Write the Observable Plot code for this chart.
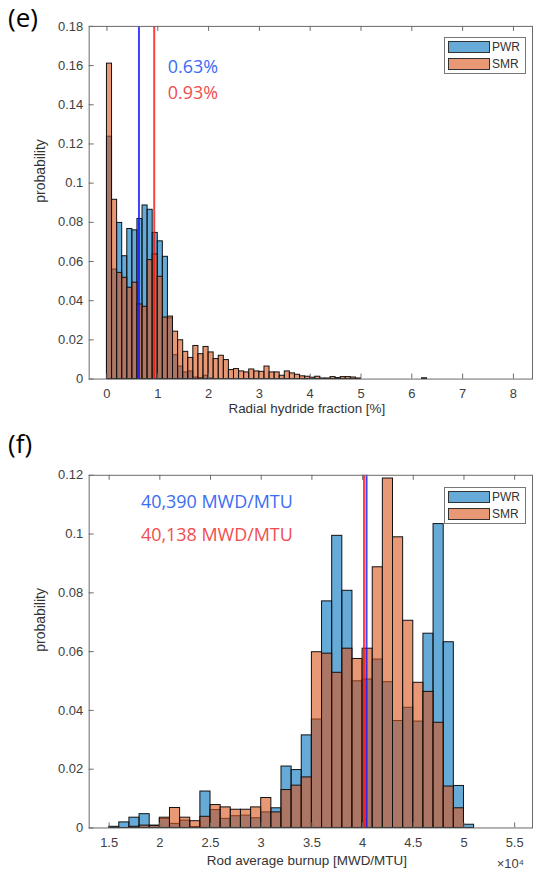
<!DOCTYPE html>
<html><head><meta charset="utf-8">
<script src="https://cdn.jsdelivr.net/npm/d3@7"></script>
<script src="https://cdn.jsdelivr.net/npm/@observablehq/plot@0.6"></script>
<style>
body{margin:0;background:#fff;}
#wrap{position:relative;width:534px;height:875px;overflow:hidden;background:#fff;font-family:"Liberation Sans",Arial,sans-serif;}
.panel{position:absolute;left:0;}
.plab{position:absolute;left:8px;font-family:"Open Sans",sans-serif;font-size:26px;line-height:1;color:#000;}
.abs{position:absolute;box-sizing:border-box;}
</style></head>
<body>
<div id="wrap"></div>
<script>
// ---------- data ----------
const series = ["PWR", "SMR"];
const panelLabels = ["(e)", "(f)"];

// (e) Radial hydride fraction [%], bins of 0.1 starting at 0
const eBinStart = 0, eBinWidth = 0.1;
const ePWR = [0.1237,0.0559,0.0797,0.0627,0.0766,0.0759,0.0817,0.0886,0.0864,0.0746,
              0.0703,0.0624,0.0310,0.0122,0.0064,0.0034,0.0039,0.0008,0.0005,0.0017,
              0.0003,0,0,0,0,0,0,0,0,0, 0,0,0,0,0,0,0,0,0,0, 0,0,0,0,0,0,0,0,0,0,
              0,0,0,0,0,0,0,0,0,0, 0,0,0.0004];
const eSMR = [0.1610,0.0915,0.0542,0.0517,0.0466,0.0492,0.0381,0.0369,0.0607,0.0636,
              0.0522,0.0314,0.0319,0.0242,0.0198,0.0139,0.0108,0.0169,0.0127,0.0164,
              0.0136,0.0102,0.0119,0.0097,0.0046,0.0051,0.0039,0.0034,0.0049,0.0039,
              0.0037,0.0064,0.0034,0.0034,0.0017,0.0039,0.0029,0.0022,0.0014,0.0012,
              0.0007,0.0012,0.0003,0.0003,0.0010,0.0005,0.0010,0.0010,0.0008,0.0003];
const eMedians = [0.63, 0.93]; // PWR, SMR (%)
const eXTicks = [0,1,2,3,4,5,6,7,8];
const eYTicks = [0,0.02,0.04,0.06,0.08,0.1,0.12,0.14,0.16,0.18];
const eXLabel = "Radial hydride fraction [%]";

// (f) Rod average burnup [MWD/MTU] (x10^4), bins of 0.1e4 starting at 1.5e4
const fBinStart = 1.5, fBinWidth = 0.1;
const fPWR = [0.0004,0.0019,0.0035,0.0047,0.0008,0.0031,0.0014,0.0025,0.0003,0.0124,
              0.0061,0.0031,0.0040,0.0042,0.0033,0.0053,0.0067,0.0209,0.0197,0.0315,
              0.0369,0.0771,0.0994,0.0807,0.0499,0.0505,0.0573,0.0496,0.0364,0.0409,
              0.0362,0.0661,0.1034,0.0632,0.0143,0.0011];
const fSMR = [0,0,0.0004,0.0008,0.0007,0.0035,0.0068,0.0035,0.0023,0.0038,
              0.0078,0.0070,0.0062,0.0062,0.0070,0.0102,0.0053,0.0129,0.0144,0.0172,
              0.0598,0.0593,0.0528,0.0610,0.0575,0.0610,0.0887,0.1189,0.0989,0.0705,
              0.0494,0.0463,0.0358,0.0141,0.0067,0];
const fMedians = [40390, 40138]; // PWR, SMR (MWD/MTU)
const fXTicks = [1.5,2,2.5,3,3.5,4,4.5,5,5.5];
const fYTicks = [0,0.02,0.04,0.06,0.08,0.1,0.12];
const fXLabel = "Rod average burnup [MWD/MTU]";
const yLabel = "probability";

// ---------- styling ----------
const FILL = {PWR: "#0072BD", SMR: "#D95319"};
const SWATCH = {PWR: "rgb(102,170,215)", SMR: "rgb(232,152,117)"};
const LINE = {PWR: "#1010ff", SMR: "#ff1010"};
const TXT = {PWR: "#3a6cf2", SMR: "#f24d4d"};
const AXC = "#6a6a6a";
const W = 536, ML = 89, MR = 2;

function bins(start, width, values) {
  return values.map((v, i) => ({x1: start + i * width, x2: start + (i + 1) * width, y: v}))
               .filter(d => d.y > 0);
}

function panel(o) {
  const plotH = o.height - o.marginTop - o.marginBottom;
  const plotW = W - ML - MR;
  const fmt = d3.format("~g");
  const marks = [
    Plot.rectY(bins(o.start, o.width, o.pwr), {x1: "x1", x2: "x2", y: "y",
      fill: FILL.PWR, fillOpacity: 0.6, stroke: "#111", strokeWidth: 1}),
    Plot.rectY(bins(o.start, o.width, o.smr), {x1: "x1", x2: "x2", y: "y",
      fill: FILL.SMR, fillOpacity: 0.6, stroke: "#111", strokeWidth: 1}),
    Plot.ruleX([o.medians[1]], {x: d => d, stroke: LINE.SMR, strokeWidth: 2, strokeOpacity: 0.8}),
    Plot.ruleX([o.medians[0]], {x: d => d, stroke: LINE.PWR, strokeWidth: 2, strokeOpacity: 0.8}),
    Plot.frame({stroke: AXC, strokeWidth: 1}),
    Plot.tickX(o.xTicks, {x: d => d, insetTop: plotH - 5, stroke: AXC, strokeWidth: 1}),
    Plot.tickX(o.xTicks, {x: d => d, insetBottom: plotH - 5, stroke: AXC, strokeWidth: 1}),
    Plot.tickY(o.yTicks, {y: d => d, insetRight: plotW - 5, stroke: AXC, strokeWidth: 1}),
    Plot.axisX({ticks: o.xTicks, tickSize: 0, tickPadding: 10, tickFormat: fmt, label: null,
      fontSize: 13, color: "#404040"}),
    Plot.axisY({ticks: o.yTicks, tickSize: 0, tickPadding: 6, tickFormat: fmt, label: null,
      fontSize: 13, color: "#404040"}),
    Plot.text([o.xLabel], {text: d => d, frameAnchor: "bottom", dy: o.xLabelDy, dx: -4,
      fontSize: 13.5, fill: "#333"}),
    Plot.text([yLabel], {text: d => d, frameAnchor: "left", dx: -49, rotate: -90,
      fontSize: 14, fill: "#333"}),
    Plot.text([o.texts[0]], {text: d => d, frameAnchor: "top-left", dx: o.textDx, dy: o.textDy[0],
      textAnchor: "start", lineAnchor: "middle", fontSize: 18, fontFamily: "Open Sans", fill: TXT.PWR}),
    Plot.text([o.texts[1]], {text: d => d, frameAnchor: "top-left", dx: o.textDx, dy: o.textDy[1],
      textAnchor: "start", lineAnchor: "middle", fontSize: 18, fontFamily: "Open Sans", fill: TXT.SMR})
  ];
  if (o.extra) marks.push(...o.extra);
  return Plot.plot({
    width: W, height: o.height,
    marginLeft: ML, marginRight: MR, marginTop: o.marginTop, marginBottom: o.marginBottom,
    x: {domain: o.xDomain, label: null},
    y: {domain: o.yDomain, label: null},
    style: {fontFamily: "'Liberation Sans', Arial, sans-serif", fontSize: "13px", background: "transparent", overflow: "visible"},
    marks
  });
}

const wrap = document.getElementById("wrap");

function legend(top) {
  const box = document.createElement("div");
  box.className = "abs";
  Object.assign(box.style, {left: "444px", top: top + "px", width: "82px", height: "37px",
    border: "1px solid #777", background: "#fff"});
  wrap.appendChild(box);
  series.forEach((s, i) => {
    const sw = document.createElement("div");
    sw.className = "abs";
    Object.assign(sw.style, {left: "448px", top: (top + 4 + i * 17) + "px", width: "42px", height: "12px",
      border: "1px solid #333", background: SWATCH[s]});
    wrap.appendChild(sw);
    const t = document.createElement("div");
    t.className = "abs";
    t.textContent = s;
    Object.assign(t.style, {left: "492px", top: (top + 3 + i * 17) + "px", fontSize: "12px",
      lineHeight: "14px", color: "#333"});
    wrap.appendChild(t);
  });
}

// panel (e)
const eSvg = panel({
  height: 420, marginTop: 26, marginBottom: 40,
  xDomain: [-0.35, 8.375], yDomain: [0, 0.18],
  xTicks: eXTicks, yTicks: eYTicks,
  start: eBinStart, width: eBinWidth, pwr: ePWR, smr: eSMR,
  medians: eMedians, xLabel: eXLabel, xLabelDy: 34,
  texts: eMedians.map(m => m + "%"), textDx: 79, textDy: [41, 67]
});
eSvg.classList.add("panel"); eSvg.style.top = "0px";
wrap.appendChild(eSvg);

// panel (f)
const fSvg = panel({
  height: 455, marginTop: 55, marginBottom: 46,
  xDomain: [1.303, 5.676], yDomain: [0, 0.12],
  xTicks: fXTicks, yTicks: fYTicks,
  start: fBinStart, width: fBinWidth, pwr: fPWR, smr: fSMR,
  medians: fMedians.map(m => m / 1e4), xLabel: fXLabel, xLabelDy: 37,
  texts: fMedians.map(m => d3.format(",")(m) + " MWD/MTU"), textDx: 52, textDy: [27, 60],
  extra: [Plot.text(["×10⁴"], {text: d => d, frameAnchor: "bottom-right", dx: -36, dy: 40,
    textAnchor: "start", fontSize: 13, fill: "#404040"})]
});
fSvg.classList.add("panel"); fSvg.style.top = "420px";
wrap.appendChild(fSvg);

legend(37);
legend(487);

panelLabels.forEach((l, i) => {
  const d = document.createElement("div");
  d.className = "plab";
  d.textContent = l;
  d.style.top = (i === 0 ? 4 : 430) + "px";
  wrap.appendChild(d);
});
</script>
</body></html>
